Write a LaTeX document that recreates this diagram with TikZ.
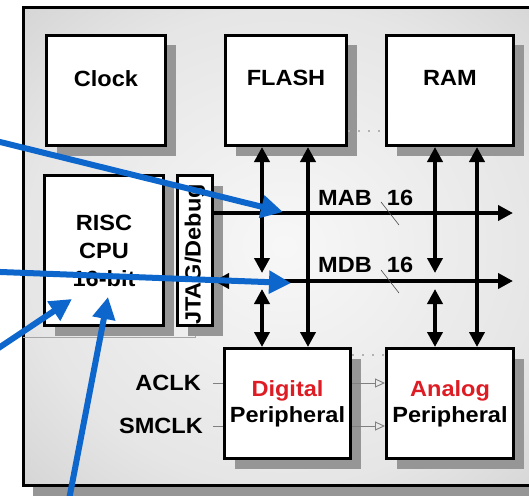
\documentclass[tikz,border=0pt]{standalone}
\usepackage{fontspec}
\setmainfont[FakeStretch=1.07]{Liberation Sans}
\usetikzlibrary{arrows.meta,positioning,shadows}
\definecolor{annblue}{RGB}{12,102,204}
\definecolor{perired}{RGB}{222,28,36}
\definecolor{shadowgray}{RGB}{150,150,150}
\pgfdeclareradialshading{chipbg}{\pgfpoint{0bp}{0bp}}{color(0bp)=(gray!6); color(25bp)=(gray!20); color(50bp)=(gray!50)}
\newcommand{\chipfont}{\fontsize{22}{26}\selectfont\bfseries}

\begin{document}
\begin{tikzpicture}[x=1pt, y=-1pt,
    blk/.style={rectangle, draw=black, line width=3pt, fill=white, inner sep=0pt,
      align=center, font=\chipfont,
      drop shadow={shadow xshift=10pt, shadow yshift=-10pt, fill=shadowgray, opacity=1}},
    lbl/.style={font=\chipfont, align=center, inner sep=0pt},
    bus/.style={line width=4.5pt, -{Triangle[length=15pt,width=15pt]}},
    dbus/.style={line width=4.5pt, {Triangle[length=15pt,width=15pt]}-{Triangle[length=15pt,width=15pt]}},
    sigline/.style={gray, line width=0.9pt},
    note/.style={annblue, line width=6pt, -{Triangle[length=22pt,width=22pt]}}
  ]
  \useasboundingbox (0,0) rectangle (529,495);
  \clip (0,0) rectangle (529,495);

  % chip outline
  \fill[shadowgray] (33,17) rectangle (560,496);
  \shade[shading=chipbg] (23.5,7.5) rectangle (545,485.5);
  \draw[line width=3pt] (23.5,7.5) rectangle (545,485.5);
  \draw[gray!70, line width=0.8pt] (23,337) -- (195,337) -- (195,327);

  % blocks
  \node[blk, minimum width=119pt, minimum height=110pt] (clock) at (106,90.5) {};
  \node[blk, minimum width=121pt, minimum height=110pt] (flash) at (286,90.5) {};
  \node[blk, minimum width=127pt, minimum height=110pt] (ram)   at (450,90.5) {};
  \node[blk, minimum width=119pt, minimum height=150pt] (cpu)   at (104,250.5) {RISC\\[2pt]CPU\\[2pt]16-bit};
  \node[blk, minimum width=35pt,  minimum height=150pt] (jtag)  at (195,250.5) {};
  \node[blk, minimum width=126pt, minimum height=110pt] (digital) at (287.5,403.5) {\textcolor{perired}{Digital}\\Peripheral};
  \node[blk, minimum width=127pt, minimum height=110pt] (analog)  at (450,403.5) {\textcolor{perired}{Analog}\\Peripheral};

  \node[lbl, below=36pt of clock.north] (clocklbl) {Clock};
  \node[lbl, below=36pt of flash.north] (flashlbl) {FLASH};
  \node[lbl, below=36pt of ram.north]   (ramlbl)   {RAM};
  \node[lbl, rotate=90] (jtaglbl) at ([yshift=-4pt]jtag.center) {JTAG/Debug};

  % buses
  \coordinate (mab) at (513,213);
  \coordinate (mdb) at (513,281);
  \draw[bus]  (jtag.east |- mab) -- (mab);
  \draw[dbus] (jtag.east |- mdb) -- (mdb);
  \foreach \x/\top/\bot in {262/flash/digital, 435/ram/analog} {
    \draw[dbus, shorten >=8pt] (\top.south -| \x,0) -- (mdb -| \x,0);
    \draw[dbus, shorten <=8pt] (mdb -| \x,0) -- (\bot.north -| \x,0);
  }
  \foreach \x/\top/\bot in {308/flash/digital, 477/ram/analog}
    \draw[dbus] (\top.south -| \x,0) -- (\bot.north -| \x,0);

  \node[lbl] (mablbl) at (345,198) {MAB};
  \node[lbl] (mabw)   at (400,198) {16};
  \node[lbl] (mdblbl) at (345,264.5) {MDB};
  \node[lbl] (mdbw)   at (400,264.5) {16};
  \draw[sigline, gray!60!black, line width=0.6pt] (381,202) -- (399,225);
  \draw[sigline, gray!60!black, line width=0.6pt] (381,270) -- (399,293);

  % clocks and side links
  \node[lbl, anchor=east] (aclk)  at (201,383) {ACLK};
  \node[lbl, anchor=east] (smclk) at (203,426) {SMCLK};
  \draw[sigline] ([xshift=12pt]aclk.east) -- (digital.west |- aclk);
  \draw[sigline] ([xshift=10pt]smclk.east) -- (digital.west |- smclk);
  \draw[sigline, -{Triangle[open,length=10pt,width=9pt]}] (digital.east |- aclk) -- (analog.west |- aclk);
  \draw[sigline, -{Triangle[open,length=10pt,width=9pt]}] (digital.east |- smclk) -- (analog.west |- smclk);
  \draw[gray!60, line width=2.2pt, dash pattern=on 2pt off 8pt] (flash.east |- 0,131) -- (ram.west |- 0,131);
  \draw[gray!60, line width=2.2pt, dash pattern=on 2pt off 8pt] (digital.east |- 0,355) -- (analog.west |- 0,355);

  % annotation arrows
  \coordinate (n1) at (-10,139.5);
  \coordinate (n2) at (-10,271.6);
  \coordinate (n3) at (-10,353.7);
  \coordinate (n4) at (68,505);
  \draw[note] (n1) -- (283,212);
  \draw[note] (n2) -- (291,283);
  \draw[note] (n3) -- (72,299);
  \draw[note] (n4) -- (108,297);
\end{tikzpicture}
\end{document}
